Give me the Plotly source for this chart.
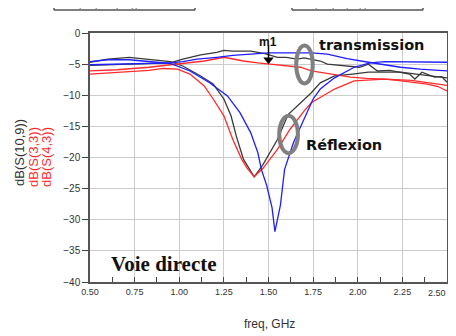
import plotly.graph_objects as go

# ---------------- data ----------------
x_ticks = [0.50, 0.75, 1.00, 1.25, 1.50, 1.75, 2.00, 2.25, 2.50]
x_tick_labels = ["0.50", "0.75", "1.00", "1.25", "1.50", "1.75", "2.00", "2.25", "2.50"]
y_ticks = [0, -5, -10, -15, -20, -25, -30, -35, -40]

# black transmission
bk_t_f = [0.50, 0.65, 0.80, 0.95, 1.02, 1.12, 1.21, 1.25, 1.30, 1.40, 1.48, 1.55, 1.60, 1.66, 1.70,
          1.79, 1.83, 1.90, 1.96, 2.01, 2.06, 2.11, 2.18, 2.24, 2.29, 2.32, 2.36, 2.43, 2.47, 2.50]
bk_t_db = [-5.2, -5.1, -5.0, -4.8, -4.2, -3.5, -3.1, -2.8, -2.9, -2.9, -3.3, -3.9, -3.9, -4.2, -4.0,
           -4.5, -5.0, -5.2, -5.3, -5.5, -5.0, -6.1, -6.0, -6.3, -6.6, -7.4, -6.3, -7.1, -7.0, -7.9]

# black reflection
bk_r_f = [0.50, 0.60, 0.72, 0.84, 0.95, 1.02, 1.12, 1.19, 1.25, 1.29, 1.32, 1.36, 1.39, 1.42, 1.47,
          1.55, 1.61, 1.68, 1.74, 1.79, 1.87, 1.97, 2.06, 2.15, 2.24, 2.35, 2.44, 2.50]
bk_r_db = [-4.7, -4.2, -3.9, -4.3, -4.6, -5.3, -6.9, -8.2, -10.6, -13.3, -16.6, -20.3, -21.7, -23.1, -21.1,
           -17.1, -13.1, -11.2, -9.6, -8.0, -6.9, -6.6, -6.3, -6.3, -6.3, -6.7, -7.0, -7.2]

# blue transmission
bl_t_f = [0.50, 0.65, 0.80, 0.95, 1.02, 1.10, 1.21, 1.30, 1.40, 1.50, 1.60, 1.74, 1.83, 1.94, 2.06,
          2.15, 2.24, 2.35, 2.50]
bl_t_db = [-5.1, -5.0, -4.9, -4.8, -4.6, -4.2, -3.9, -3.6, -3.4, -3.2, -3.2, -3.2, -3.4, -4.1, -4.7,
           -5.1, -5.5, -5.8, -6.1]

# blue reflection
bl_r_f = [0.50, 0.60, 0.72, 0.84, 0.95, 1.06, 1.17, 1.27, 1.34, 1.40, 1.44, 1.46, 1.49, 1.52, 1.536,
          1.567, 1.59, 1.64, 1.70, 1.75, 1.79, 1.87, 1.98, 2.07, 2.15, 2.30, 2.50]
bl_r_db = [-4.6, -4.3, -4.3, -4.6, -4.9, -6.1, -8.0, -10.1, -12.8, -16.0, -19.2, -21.9, -24.5, -28.1, -31.9,
           -27.6, -21.9, -17.6, -13.9, -10.6, -9.0, -7.2, -5.5, -4.8, -4.6, -4.6, -4.7]

# red transmission
rd_t_f = [0.50, 0.65, 0.83, 0.95, 1.02, 1.14, 1.25, 1.36, 1.44, 1.50, 1.62, 1.68, 1.74, 1.79, 1.96,
          2.05, 2.15, 2.22, 2.30, 2.39, 2.45, 2.50]
rd_t_db = [-6.1, -5.9, -5.5, -5.1, -4.9, -4.5, -3.9, -4.5, -4.8, -5.0, -5.4, -5.5, -6.1, -6.3, -7.1,
           -7.3, -7.4, -7.6, -7.9, -8.2, -8.6, -9.3]

# red reflection
rd_r_f = [0.50, 0.65, 0.83, 0.91, 0.99, 1.06, 1.14, 1.19, 1.25, 1.30, 1.35, 1.38, 1.42, 1.47, 1.55,
          1.62, 1.70, 1.74, 1.82, 1.87, 1.98, 2.07, 2.15, 2.30, 2.40, 2.50]
rd_r_db = [-6.6, -6.3, -6.0, -5.7, -5.8, -6.6, -8.5, -10.6, -13.3, -17.1, -20.3, -21.7, -23.1, -21.7, -18.7,
           -15.5, -12.5, -11.2, -9.8, -9.0, -7.7, -7.5, -7.4, -7.6, -8.0, -8.4]

# marker m1
m1_f = [1.50]
m1_db = [-4.3]

# ---------------- figure ----------------
BLACK = "#3a3a3a"
BLUE = "#1f1fff"
RED = "#ff2b2b"

fig = go.Figure()
series = [
    (bk_t_f, bk_t_db, BLACK),
    (bk_r_f, bk_r_db, BLACK),
    (rd_t_f, rd_t_db, RED),
    (rd_r_f, rd_r_db, RED),
    (bl_t_f, bl_t_db, BLUE),
    (bl_r_f, bl_r_db, BLUE),
]
for f, db, c in series:
    fig.add_trace(go.Scatter(x=f, y=db, mode="lines", line=dict(color=c, width=1.3),
                             showlegend=False, hoverinfo="skip"))

fig.add_trace(go.Scatter(x=m1_f, y=m1_db, mode="markers",
                         marker=dict(symbol="triangle-down", size=9, color="black"),
                         showlegend=False, hoverinfo="skip"))

# page has an 8px body margin: figure sized to sit inside the 456x336 window
OFF = 8
W, H = 456 - OFF, 336 - OFF
# plot area in window pixels: x 90..447, y 33..282
L, R, T, B = 90 - OFF, W - (447 - OFF), 33 - OFF, H - (282 - OFF)
pw, ph = W - L - R, H - T - B


def px(xw):
    return (xw - OFF - L) / pw


def py(yw):
    return (H - B - (yw - OFF)) / ph


shapes = []
shapes.append(dict(type="circle", xref="x", yref="y", x0=1.655, x1=1.748, y0=-8.1, y1=-2.0,
                   line=dict(color="#808080", width=4)))
shapes.append(dict(type="circle", xref="x", yref="y", x0=1.560, x1=1.665, y0=-19.3, y1=-13.3,
                   line=dict(color="#808080", width=4)))
shapes.append(dict(type="line", xref="x", yref="y", x0=1.5, x1=1.5, y0=-2.0, y1=-4.0,
                   line=dict(color="black", width=1.5)))
for a, b in [(54, 195), (292, 423)]:
    shapes.append(dict(type="line", xref="paper", yref="paper", x0=px(a), x1=px(b), y0=py(10), y1=py(10),
                       line=dict(color="#555", width=1.5)))
    shapes.append(dict(type="line", xref="paper", yref="paper", x0=px(a), x1=px(a), y0=py(10), y1=py(6),
                       line=dict(color="#555", width=1.5)))
    shapes.append(dict(type="line", xref="paper", yref="paper", x0=px(b), x1=px(b), y0=py(10), y1=py(6),
                       line=dict(color="#555", width=1.5)))
for xm in [80, 96, 117, 132, 136, 316, 333, 347, 360, 365]:
    shapes.append(dict(type="line", xref="paper", yref="paper", x0=px(xm), x1=px(xm + 1), y0=py(9), y1=py(6),
                       line=dict(color="#777", width=1)))


def ann(text, xw, yw, size, family="Liberation Sans", color="#111", angle=0):
    return dict(text=text, x=px(xw), y=py(yw), xref="paper", yref="paper", showarrow=False,
                xanchor="center", yanchor="middle", textangle=angle,
                font=dict(family=family, size=size, color=color))


annotations = [
    ann("<b>transmission</b>", 371, 45, 14.5, "DejaVu Sans"),
    ann("<b>Réflexion</b>", 344, 145, 14.5, "DejaVu Sans"),
    ann("<b>Voie directe</b>", 164, 264, 21, "Liberation Serif"),
    ann("<b>m1</b>", 268, 42, 12),
    ann("freq, GHz", 269, 324, 12, color="#333"),
    ann("dB(S(10,9))", 19, 153, 13, color="#333", angle=-90),
    ann("dB(S(3,3))", 33, 157, 13, color=RED, angle=-90),
    ann("dB(S(4,3))", 46, 157, 13, color=RED, angle=-90),
    # last x tick label, right-aligned on its tick so it stays inside the window
    dict(text=x_tick_labels[-1], x=x_ticks[-1], xref="x", y=py(293), yref="paper", showarrow=False,
         xanchor="right", yanchor="middle", xshift=1,
         font=dict(family="Liberation Sans", size=9, color="#333")),
]

fig.update_layout(
    width=W, height=H,
    margin=dict(l=L, r=R, t=T, b=B, pad=0),
    paper_bgcolor="white", plot_bgcolor="white",
    shapes=shapes, annotations=annotations,
    font=dict(family="Liberation Sans", color="#333"),
)
fig.update_xaxes(
    range=[0.5, 2.5], tickvals=x_ticks, ticktext=x_tick_labels[:-1] + [""], automargin=False,
    ticklabeloverflow="allow",
    showgrid=True, gridcolor="#cccccc", gridwidth=1.2,
    showline=True, linecolor="#555", linewidth=1.5, mirror=True,
    ticks="inside", ticklen=5, tickcolor="#444", tickwidth=1.3,
    minor=dict(ticks="inside", ticklen=5, tickcolor="#444", dtick=0.125, tick0=0.5, showgrid=False),
    tickfont=dict(size=9, color="#333"), zeroline=False,
)
fig.update_yaxes(
    range=[-40, 0], tickvals=y_ticks, automargin=False,
    ticklabeloverflow="allow",
    showgrid=True, gridcolor="#cccccc", gridwidth=1.2,
    showline=True, linecolor="#555", linewidth=1.5, mirror=True,
    ticks="outside", ticklen=6, tickcolor="#444", tickwidth=1.3,
    tickfont=dict(size=10, color="#333"), zeroline=False,
)

fig.write_html("out.html")
